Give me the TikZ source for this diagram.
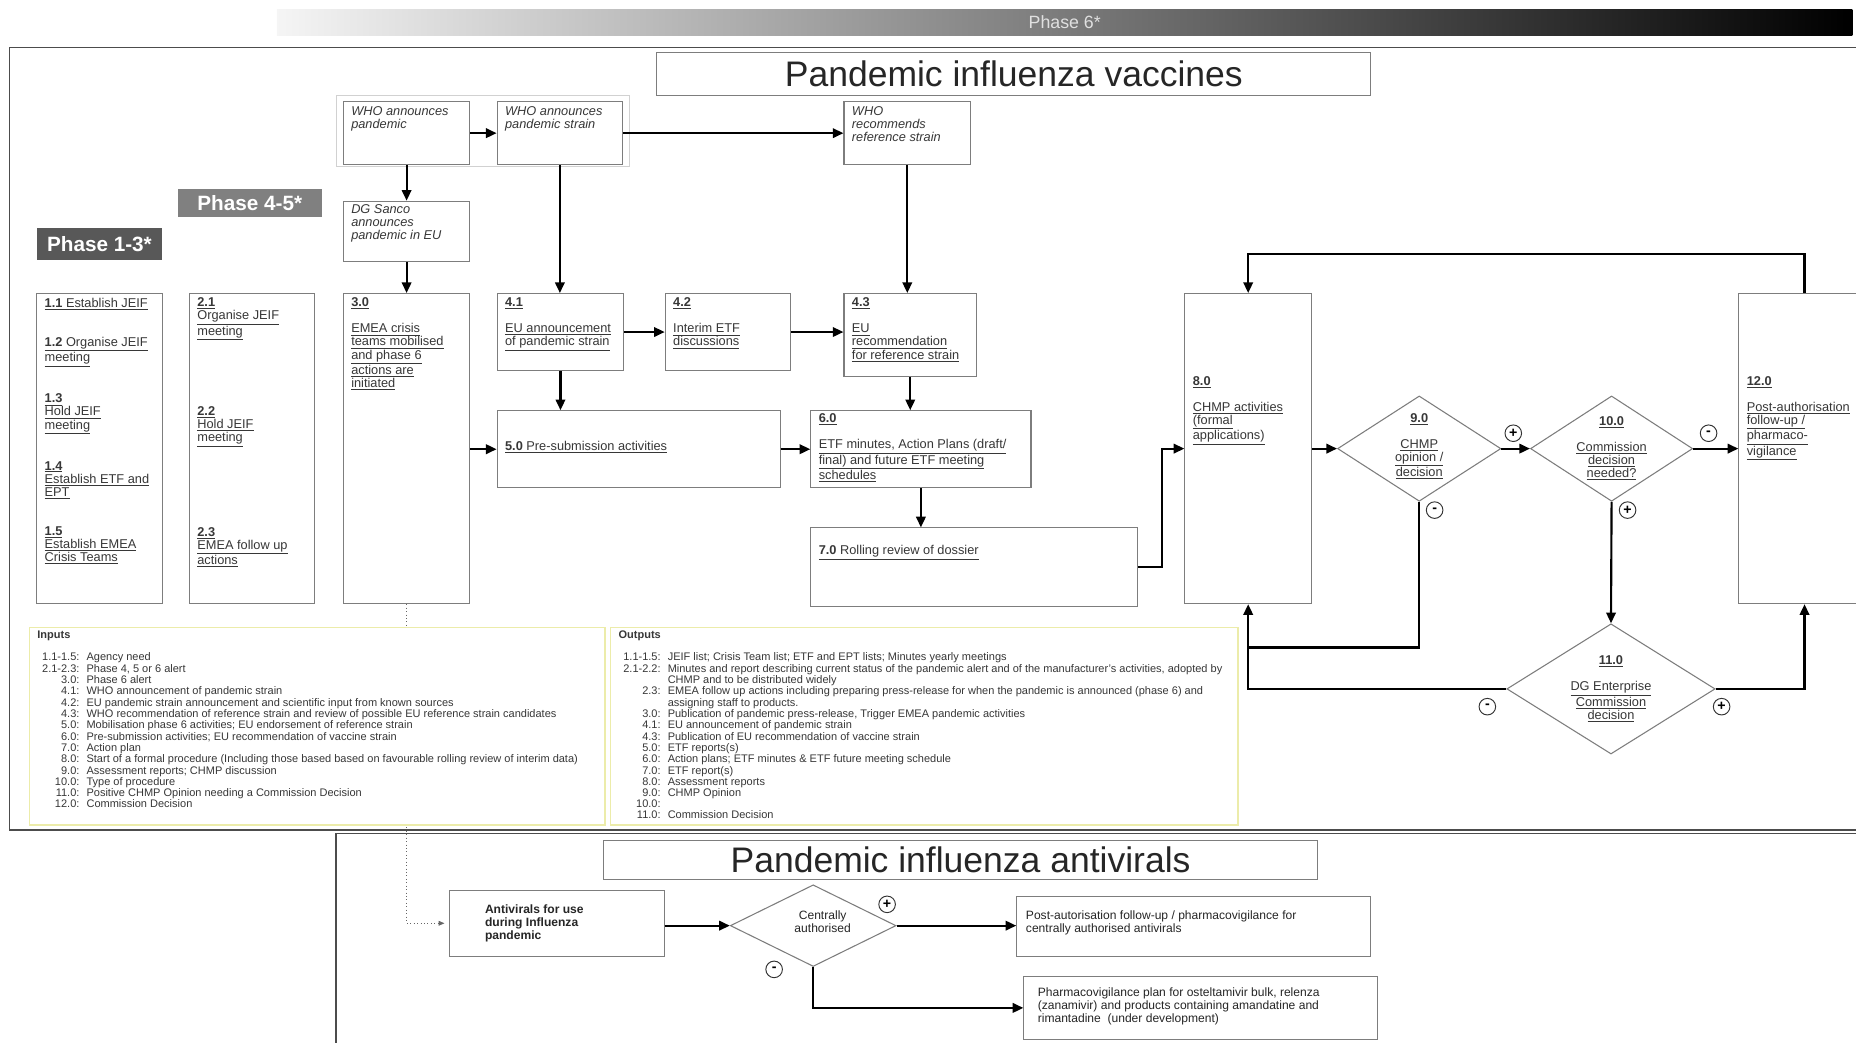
\documentclass[tikz,border=0pt]{standalone}
\usepackage{fontspec}
\setmainfont{Liberation Sans}
\usetikzlibrary{positioning,arrows.meta,shapes.geometric,calc,backgrounds}
\definecolor{boxline}{RGB}{125,125,125}
\definecolor{textgray}{RGB}{55,55,55}
\definecolor{ioline}{RGB}{236,236,170}
\definecolor{phaseA}{RGB}{88,88,88}
\definecolor{phaseB}{RGB}{128,128,128}
\newcommand{\undl}[1]{\underline{#1}}
\tikzstyle{bbox}=[rectangle, draw=boxline, line width=0.9pt, fill=white, inner sep=0pt]
\tikzstyle{dbox}=[diamond, draw=boxline, line width=0.9pt, fill=white, inner sep=0pt]
\tikzstyle{tbox}=[rectangle, draw=boxline, line width=0.9pt, fill=white, text=black!85,
                  font=\fontsize{30}{31}\selectfont]
\tikzstyle{iobox}=[rectangle, draw=ioline, line width=1.2pt, fill=white, inner sep=0pt]
\tikzstyle{btxt}=[anchor=north west, inner sep=0pt, align=left, text=textgray,
                  font=\fontsize{10.8}{11}\selectfont]
\tikzstyle{wtxt}=[btxt, font=\fontsize{10.8}{11}\selectfont\itshape]
\tikzstyle{ctxt}=[inner sep=0pt, align=center, text=textgray, font=\fontsize{10.8}{11}\selectfont]
\tikzstyle{atxt}=[anchor=west, inner sep=0pt, align=left, text=black!85, font=\fontsize{10.2}{11}\selectfont]
\tikzstyle{iotxt}=[anchor=north west, inner sep=0pt, text=textgray, font=\fontsize{9.3}{9.4}\selectfont]
\tikzstyle{phbox}=[rectangle, text=white, inner sep=0pt, font=\bfseries\fontsize{17.5}{18}\selectfont]
\tikzstyle{phsix}=[rectangle, inner sep=0pt, left color=black!4, middle color=black!30, right color=black,
                   text=white!88!black, font=\fontsize{15}{16}\selectfont]
\tikzstyle{secframe}=[-, line width=1.3pt, draw=black!70]
\tikzstyle{pline}=[-{Triangle[length=9pt,width=8pt]}, line width=1.8pt]
\tikzstyle{nline}=[-, line width=1.8pt]
\tikzstyle{dline}=[-{Triangle[length=5pt,width=4pt]}, dotted, line width=0.9pt, draw=black!60, shorten >=4pt]
\tikzstyle{signc}=[circle, draw=black!80, line width=0.8pt, fill=white, inner sep=0pt, minimum size=14pt,
                   font=\bfseries\fontsize{12}{12}\selectfont]

\begin{document}
\begin{tikzpicture}[x=1pt,y=-1pt]
\useasboundingbox (0,0) rectangle (1568,881);

\node (PH6) [phsix, minimum width=1331pt, minimum height=22pt] at (899.5,19) {Phase 6*};
\draw[secframe] (1572,40) -- (8,40) -- (8,701) -- (1572,701);
\draw[secframe] (1572,704) -- (284,704) -- (284,884);

\node (VACC) [tbox, minimum width=603pt, minimum height=37pt] at (856.5,62.5) {Pandemic influenza vaccines};
\node (PH13) [phbox, fill=phaseA, minimum width=106pt, minimum height=27pt] at (84,206.5) {Phase 1-3*};
\node (PH45) [phbox, fill=phaseB, minimum width=122pt, minimum height=23pt] at (211,171.5) {Phase 4-5*};

% WHO announcements
\node (WHOGRP) [rectangle, draw=black!18, line width=0.9pt, minimum width=248pt, minimum height=60pt] at (408,111) {};
\node (WHOPAN) [bbox, minimum width=107pt, minimum height=53pt] at (343.5,112.5) {};
\node [wtxt] at ([xshift=7pt,yshift=-4pt]WHOPAN.north west) {WHO announces\\pandemic};
\node (WHOSTR) [bbox, minimum width=106pt, minimum height=53pt] at (473,112.5) {};
\node [wtxt] at ([xshift=7pt,yshift=-4pt]WHOSTR.north west) {WHO announces\\pandemic strain};
\node (WHOREF) [bbox, minimum width=107pt, minimum height=53pt] at (766.5,112.5) {};
\node [wtxt] at ([xshift=7pt,yshift=-4pt]WHOREF.north west) {WHO\\recommends\\reference strain};
\node (DGS) [bbox, minimum width=107pt, minimum height=51pt] at (343.5,195.5) {};
\node [wtxt] at ([xshift=7pt,yshift=-3pt]DGS.north west) {DG Sanco\\announces\\pandemic in EU};

% phase 1-3 and 4-5 columns
\node (B1) [bbox, minimum width=106pt, minimum height=262pt] at (84,379) {};
\node (B1T) [btxt] at ([xshift=7pt,yshift=-4pt]B1.north west) {\undl{\textbf{1.1} Establish JEIF}\\[22pt]
 \undl{\textbf{1.2} Organise JEIF}\\\undl{meeting}\\[22pt]
 \undl{\textbf{1.3}}\\\undl{Hold JEIF}\\\undl{meeting}\\[22pt]
 \undl{\textbf{1.4}}\\\undl{Establish ETF and}\\\undl{EPT}\\[22pt]
 \undl{\textbf{1.5}}\\\undl{Establish EMEA}\\\undl{Crisis Teams}};
\node (B2) [bbox, minimum width=106pt, minimum height=262pt] at (213,379) {};
\node (B2T) [btxt] at ([xshift=7pt,yshift=-4pt]B2.north west) {\undl{\textbf{2.1}}\\\undl{Organise JEIF}\\\undl{meeting}\\[55pt]
 \undl{\textbf{2.2}}\\\undl{Hold JEIF}\\\undl{meeting}\\[67pt]
 \undl{\textbf{2.3}}\\\undl{EMEA follow up}\\\undl{actions}};
\node (B3) [bbox, minimum width=107pt, minimum height=262pt] at (343.5,379) {};
\node (B3T) [btxt] at ([xshift=7pt,yshift=-4pt]B3.north west) {\undl{\textbf{3.0}}\\[11pt]
 \undl{EMEA crisis}\\\undl{teams mobilised}\\\undl{and phase 6}\\\undl{actions are}\\\undl{initiated}};

% phase 6 steps
\node (B41) [bbox, minimum width=107pt, minimum height=65pt] at (473.5,280.5) {};
\node (B41T) [btxt] at ([xshift=7pt,yshift=-4pt]B41.north west) {\undl{\textbf{4.1}}\\[11pt]\undl{EU announcement}\\\undl{of pandemic strain}};
\node (B42) [bbox, minimum width=106pt, minimum height=65pt] at (615,280.5) {};
\node (B42T) [btxt] at ([xshift=7pt,yshift=-4pt]B42.north west) {\undl{\textbf{4.2}}\\[11pt]\undl{Interim ETF}\\\undl{discussions}};
\node (B43) [bbox, minimum width=112pt, minimum height=70pt] at (769,283) {};
\node (B43T) [btxt] at ([xshift=7pt,yshift=-4pt]B43.north west) {\undl{\textbf{4.3}}\\[11pt]\undl{EU}\\\undl{recommendation}\\\undl{for reference strain}};
\node (B5) [bbox, minimum width=239pt, minimum height=65pt] at (539.5,379.5) {};
\node (B5T) [btxt, anchor=west] at ([xshift=7pt,yshift=2pt]B5.west) {\undl{\textbf{5.0} Pre-submission activities}};
\node (B6) [bbox, minimum width=186pt, minimum height=65pt] at (778,379.5) {};
\node (B6T) [btxt] at ([xshift=7pt,yshift=-3pt]B6.north west) {\undl{\textbf{6.0}}\\[11pt]\undl{ETF minutes, Action Plans (draft/}\\\undl{final) and future ETF meeting}\\\undl{schedules}};
\node (B7) [bbox, minimum width=276pt, minimum height=66pt] at (823,479) {};
\node (B7T) [btxt] at ([xshift=7pt,yshift=-15pt]B7.north west) {\undl{\textbf{7.0} Rolling review of dossier}};
\node (B8) [bbox, minimum width=107pt, minimum height=262pt] at (1054.5,379) {};
\node (B8T) [btxt] at ([xshift=7pt,yshift=-70pt]B8.north west) {\undl{\textbf{8.0}}\\[11pt]\undl{CHMP activities}\\\undl{(formal}\\\undl{applications)}};
\node (D9) [dbox, minimum width=138pt, minimum height=89pt] at (1199,379) {};
\node (D9T) [ctxt] at ([yshift=2pt]D9.center) {\undl{\textbf{9.0}}\\[11pt]\undl{CHMP}\\\undl{opinion /}\\\undl{decision}};
\node (D10) [dbox, minimum width=137pt, minimum height=89pt] at (1361.5,379) {};
\node (D10T) [ctxt] at (D10.center) {\undl{\textbf{10.0}}\\[11pt]\undl{Commission}\\\undl{decision}\\\undl{needed?}};
\node (B12) [bbox, minimum width=111pt, minimum height=262pt] at (1524.5,379) {};
\node (B12T) [btxt] at ([xshift=7pt,yshift=-70pt]B12.north west) {\undl{\textbf{12.0}}\\[11pt]\undl{Post-authorisation}\\\undl{follow-up /}\\\undl{pharmaco-}\\\undl{vigilance}};
\node (D11) [dbox, minimum width=176pt, minimum height=110pt] at (1361,582) {};
\node (D11T) [ctxt] at (D11.center) {\undl{\textbf{11.0}}\\[11pt]\undl{DG Enterprise}\\\undl{Commission}\\\undl{decision}};
\coordinate (J9) at (1054.5,547);

\draw[pline] (WHOPAN.east) -- (WHOSTR.west);
\draw[pline] (WHOSTR.east) -- (WHOREF.west);
\draw[pline] (WHOPAN.south) -- (DGS.north);
\draw[pline] (DGS.south) -- (B3.north);
\draw[pline] (WHOSTR.south) -- (WHOSTR.south |- B41.north);
\draw[pline] (WHOREF.south) -- (WHOREF.south |- B43.north);
\draw[pline] (B41.east) -- (B42.west);
\draw[pline] (B42.east) -- (B42.east -| B43.west);
\draw[pline] (B41.south) -- (B41.south |- B5.north);
\draw[pline] (B43.south) -- (B43.south |- B6.north);
\draw[pline] (B3.east |- B5.west) -- (B5.west);
\draw[pline] (B5.east) -- (B6.west);
\draw[pline] (B6.south) -- (B6.south |- B7.north);
\draw[pline] (B7.east) -- ++(20,0) |- (B8.west);
\draw[pline] (B8.east) -- (D9.west);
\draw[pline] (D9.east) -- (D10.west);
\draw[pline] (D10.east) -- (B12.west);
\draw[pline] (D10.south) -- (D11.north);
\draw[nline] (D9.south) |- (J9);
\draw[pline] (D11.west) -| (B8.south);
\draw[pline] (D11.east) -| (B12.south);
\draw[pline] (B12.north) -- ++(0,-33) -| (B8.north);

\node (S1) [signc] at ([xshift=10pt,yshift=13pt]D9.east) {+};
\node (S2) [signc] at ([xshift=13pt,yshift=13pt]D10.east) {-};
\node (S3) [signc] at ([xshift=13pt,yshift=-7pt]D9.south) {-};
\node (S4) [signc] at ([xshift=13.5pt,yshift=-7pt]D10.south) {+};
\node (S5) [signc] at ([xshift=-16pt,yshift=-15pt]D11.west) {-};
\node (S6) [signc] at ([xshift=5pt,yshift=-15pt]D11.east) {+};

% inputs and outputs
\node (INP) [iobox, minimum width=486pt, minimum height=167pt] at (268,613.5) {};
\node (INPH) [iotxt, font=\bfseries\fontsize{9.3}{9.4}\selectfont] at ([xshift=7pt,yshift=-3pt]INP.north west) {Inputs};
\node (INPL) [iotxt] at ([xshift=11pt,yshift=-22pt]INP.north west) {\begin{tabular}{@{}r@{\hspace{6pt}}l@{}}
1.1-1.5: & Agency need\\
2.1-2.3: & Phase 4, 5 or 6 alert\\
3.0: & Phase 6 alert\\
4.1: & WHO announcement of pandemic strain\\
4.2: & EU pandemic strain announcement and scientific input from known sources\\
4.3: & WHO recommendation of reference strain and review of possible EU reference strain candidates\\
5.0: & Mobilisation phase 6 activities; EU endorsement of reference strain\\
6.0: & Pre-submission activities; EU recommendation of vaccine strain\\
7.0: & Action plan\\
8.0: & Start of a formal procedure (Including those based based on favourable rolling review of interim data)\\
9.0: & Assessment reports; CHMP discussion\\
10.0: & Type of procedure\\
11.0: & Positive CHMP Opinion needing a Commission Decision\\
12.0: & Commission Decision
\end{tabular}};
\node (OUT) [iobox, minimum width=530pt, minimum height=167pt] at (781,613.5) {};
\node (OUTH) [iotxt, font=\bfseries\fontsize{9.3}{9.4}\selectfont] at ([xshift=7pt,yshift=-3pt]OUT.north west) {Outputs};
\node (OUTL) [iotxt] at ([xshift=11pt,yshift=-22pt]OUT.north west) {\begin{tabular}{@{}r@{\hspace{6pt}}l@{}}
1.1-1.5: & JEIF list; Crisis Team list; ETF and EPT lists; Minutes yearly meetings\\
2.1-2.2: & Minutes and report describing current status of the pandemic alert and of the manufacturer's activities, adopted by\\
 & CHMP and to be distributed widely\\
2.3: & EMEA follow up actions including preparing press-release for when the pandemic is announced (phase 6) and\\
 & assigning staff to products.\\
3.0: & Publication of pandemic press-release, Trigger EMEA pandemic activities\\
4.1: & EU announcement of pandemic strain\\
4.3: & Publication of EU recommendation of vaccine strain\\
5.0: & ETF reports(s)\\
6.0: & Action plans; ETF minutes \& ETF future meeting schedule\\
7.0: & ETF report(s)\\
8.0: & Assessment reports\\
9.0: & CHMP Opinion\\
10.0: & \\
11.0: & Commission Decision
\end{tabular}};

% antivirals
\node (ANTI) [tbox, minimum width=603pt, minimum height=33pt] at (811.5,726.5) {Pandemic influenza antivirals};
\node (AVU) [bbox, minimum width=181pt, minimum height=56pt] at (470.5,780) {};
\node (AVUT) [atxt, font=\bfseries\fontsize{10.2}{11}\selectfont] at ([xshift=30pt]AVU.west) {Antivirals for use\\during Influenza\\pandemic};
\node (CEN) [dbox, minimum width=140pt, minimum height=69pt] at (687,782) {};
\node (CENT) [ctxt, text=black!85, font=\fontsize{10.2}{11}\selectfont] at ([xshift=8pt,yshift=3pt]CEN.center) {Centrally\\authorised};
\node (POST) [bbox, minimum width=299pt, minimum height=51pt] at (1008.5,782.5) {};
\node (POSTT) [atxt] at ([xshift=8pt,yshift=3pt]POST.west) {Post-autorisation follow-up / pharmacovigilance for\\centrally authorised antivirals};
\node (PVP) [bbox, minimum width=299pt, minimum height=53pt] at (1014.5,851.5) {};
\node (PVPT) [atxt] at ([xshift=12pt,yshift=1pt]PVP.west) {Pharmacovigilance plan for osteltamivir bulk, relenza\\(zanamivir) and products containing amandatine and\\rimantadine\ \ (under development)};

\draw[pline] (AVU.east |- CEN.west) -- (CEN.west);
\draw[pline] (CEN.east) -- (CEN.east -| POST.west);
\draw[pline] (CEN.south) |- (PVP.west);
\node (S7) [signc] at ([xshift=-8pt,yshift=18pt]CEN.east) {+};
\node (S8) [signc] at ([xshift=-33pt,yshift=-2pt]CEN.south) {-};

\begin{scope}[on background layer]
\draw[dline] (B3.south) |- (AVU.west);
\end{scope}
\end{tikzpicture}
\end{document}
